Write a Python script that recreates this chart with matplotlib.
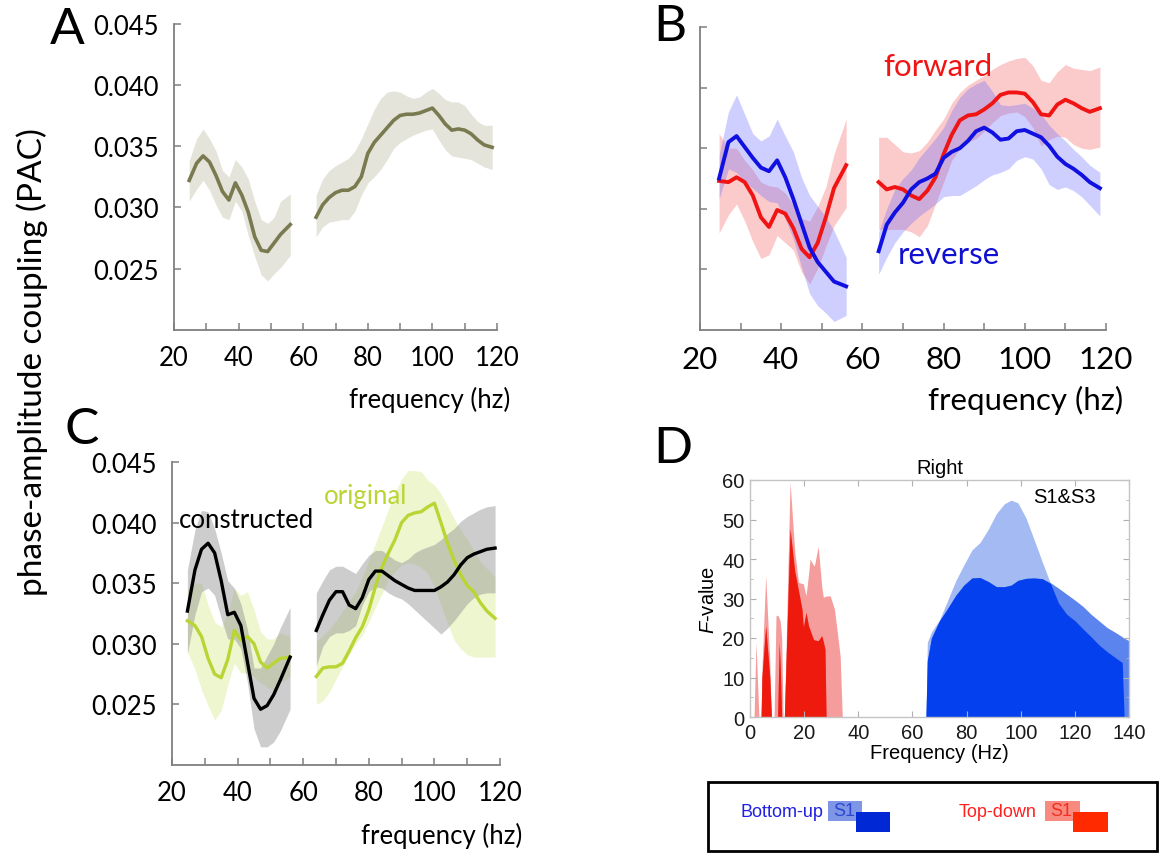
import numpy as np
import matplotlib.pyplot as plt
from matplotlib.patches import Rectangle
from matplotlib.ticker import MultipleLocator

W, H = 1159, 854
plt.rcParams['font.family'] = ['Lato', 'DejaVu Sans']
plt.rcParams['mathtext.fontset'] = 'custom'
plt.rcParams['mathtext.it'] = 'Liberation Sans:italic'
plt.rcParams['mathtext.rm'] = 'Liberation Sans'

# ---------------- data ----------------
freq_lo = [24.7, 27, 29, 31, 33, 35, 37, 39, 41, 43, 45, 47, 49, 51, 53, 56]
freq_hi = [64, 66, 68, 70, 72, 74, 76, 78, 80, 82, 84, 86, 88, 90, 92, 94, 96, 98,
           100, 102, 104, 106, 108, 110, 112, 114, 116, 118.5]

# panel A
a_mean_lo = [0.0322, 0.0336, 0.0342, 0.0337, 0.0326, 0.0313, 0.0306, 0.0320, 0.0310, 0.0296,
             0.0276, 0.0265, 0.0264, 0.0271, 0.0278, 0.0286]
a_up_lo = [0.0338, 0.0356, 0.0364, 0.0356, 0.0346, 0.0330, 0.0325, 0.0339, 0.0333, 0.0323,
           0.0305, 0.0290, 0.0287, 0.0292, 0.0305, 0.0311]
a_dn_lo = [0.0305, 0.0315, 0.0322, 0.0314, 0.0302, 0.0292, 0.0290, 0.0305, 0.0297, 0.0277,
           0.0260, 0.0245, 0.0240, 0.0246, 0.0251, 0.0261]
a_mean_hi = [0.0292, 0.0302, 0.0308, 0.0312, 0.0314, 0.0314, 0.0317, 0.0325, 0.0344, 0.0353,
             0.0359, 0.0365, 0.0371, 0.0375, 0.0376, 0.0376, 0.0377, 0.0379, 0.0381, 0.0375,
             0.0368, 0.0363, 0.0364, 0.0363, 0.0360, 0.0355, 0.0351, 0.0349]
a_up_hi = [0.0310, 0.0323, 0.0330, 0.0334, 0.0337, 0.0340, 0.0346, 0.0356, 0.0368, 0.0380,
           0.0389, 0.0394, 0.0395, 0.0394, 0.0391, 0.0389, 0.0390, 0.0394, 0.0397, 0.0393,
           0.0388, 0.0386, 0.0386, 0.0383, 0.0376, 0.0370, 0.0367, 0.0367]
a_dn_hi = [0.0276, 0.0284, 0.0288, 0.0289, 0.0290, 0.0290, 0.0297, 0.0310, 0.0320, 0.0325,
           0.0331, 0.0339, 0.0348, 0.0353, 0.0356, 0.0359, 0.0361, 0.0363, 0.0364, 0.0355,
           0.0347, 0.0342, 0.0341, 0.0340, 0.0339, 0.0336, 0.0333, 0.0331]

# panel B: forward (red) / reverse (blue)
fwd_mean_lo = [0.0323, 0.0322, 0.0326, 0.0322, 0.0311, 0.0293, 0.0285, 0.0299, 0.0296, 0.0284,
               0.0267, 0.0260, 0.0272, 0.0293, 0.0317, 0.0336]
fwd_up_lo = [0.0362, 0.0350, 0.0350, 0.0340, 0.0332, 0.0322, 0.0319, 0.0318, 0.0313, 0.0303,
             0.0292, 0.0290, 0.0302, 0.0318, 0.0345, 0.0374]
fwd_dn_lo = [0.0280, 0.0295, 0.0304, 0.0290, 0.0273, 0.0259, 0.0262, 0.0278, 0.0272, 0.0266,
             0.0248, 0.0238, 0.0251, 0.0269, 0.0286, 0.0301]
fwd_mean_hi = [0.0322, 0.0316, 0.0318, 0.0316, 0.0311, 0.0308, 0.0315, 0.0326, 0.0345, 0.0361,
               0.0373, 0.0377, 0.0378, 0.0382, 0.0387, 0.0394, 0.0396, 0.0396, 0.0395, 0.0388,
               0.0378, 0.0377, 0.0386, 0.0390, 0.0387, 0.0383, 0.0380, 0.0383]
fwd_up_hi = [0.0359, 0.0359, 0.0353, 0.0347, 0.0346, 0.0348, 0.0355, 0.0365, 0.0374, 0.0387,
             0.0396, 0.0402, 0.0406, 0.0410, 0.0415, 0.0419, 0.0422, 0.0424, 0.0425, 0.0418,
             0.0406, 0.0404, 0.0413, 0.0419, 0.0416, 0.0415, 0.0414, 0.0417]
fwd_dn_hi = [0.0283, 0.0283, 0.0283, 0.0283, 0.0281, 0.0277, 0.0286, 0.0304, 0.0322, 0.0340,
             0.0350, 0.0355, 0.0358, 0.0364, 0.0371, 0.0377, 0.0379, 0.0380, 0.0376, 0.0367,
             0.0352, 0.0357, 0.0360, 0.0359, 0.0353, 0.0350, 0.0349, 0.0351]
rev_mean_lo = [0.0325, 0.0355, 0.0360, 0.0351, 0.0342, 0.0334, 0.0331, 0.0340, 0.0326, 0.0308,
               0.0288, 0.0268, 0.0256, 0.0248, 0.0240, 0.0236]
rev_up_lo = [0.0344, 0.0380, 0.0394, 0.0378, 0.0362, 0.0356, 0.0360, 0.0374, 0.0360, 0.0347,
             0.0326, 0.0311, 0.0302, 0.0293, 0.0282, 0.0260]
rev_dn_lo = [0.0308, 0.0333, 0.0330, 0.0322, 0.0317, 0.0311, 0.0306, 0.0305, 0.0292, 0.0275,
             0.0252, 0.0230, 0.0220, 0.0214, 0.0207, 0.0212]
rev_mean_hi = [0.0265, 0.0287, 0.0297, 0.0305, 0.0316, 0.0322, 0.0325, 0.0329, 0.0342, 0.0347,
               0.0350, 0.0356, 0.0364, 0.0367, 0.0363, 0.0357, 0.0358, 0.0364, 0.0365, 0.0362,
               0.0359, 0.0352, 0.0343, 0.0337, 0.0333, 0.0328, 0.0322, 0.0317]
rev_up_hi = [0.0281, 0.0300, 0.0316, 0.0325, 0.0332, 0.0342, 0.0350, 0.0358, 0.0367, 0.0381,
             0.0392, 0.0399, 0.0403, 0.0406, 0.0397, 0.0386, 0.0385, 0.0386, 0.0387, 0.0383,
             0.0378, 0.0369, 0.0362, 0.0356, 0.0349, 0.0343, 0.0336, 0.0330]
rev_dn_hi = [0.0246, 0.0260, 0.0272, 0.0281, 0.0288, 0.0294, 0.0299, 0.0304, 0.0310, 0.0311,
             0.0311, 0.0315, 0.0319, 0.0324, 0.0328, 0.0330, 0.0333, 0.0340, 0.0343, 0.0341,
             0.0333, 0.0320, 0.0316, 0.0318, 0.0315, 0.0310, 0.0303, 0.0294]

# panel C: constructed (black) / original (green)
con_mean_lo = [0.0327, 0.0361, 0.0378, 0.0383, 0.0375, 0.0352, 0.0324, 0.0326, 0.0315, 0.0285,
               0.0255, 0.0246, 0.0249, 0.0258, 0.0270, 0.0289]
con_up_lo = [0.0361, 0.0394, 0.0410, 0.0409, 0.0395, 0.0375, 0.0352, 0.0346, 0.0333, 0.0312,
             0.0280, 0.0280, 0.0290, 0.0300, 0.0313, 0.0330]
con_dn_lo = [0.0292, 0.0324, 0.0343, 0.0346, 0.0340, 0.0321, 0.0304, 0.0304, 0.0296, 0.0268,
             0.0230, 0.0215, 0.0215, 0.0219, 0.0228, 0.0246]
con_mean_hi = [0.0311, 0.0324, 0.0336, 0.0343, 0.0343, 0.0332, 0.0329, 0.0338, 0.0353, 0.0360,
               0.0360, 0.0356, 0.0352, 0.0349, 0.0346, 0.0344, 0.0344, 0.0344, 0.0344, 0.0347,
               0.0351, 0.0357, 0.0365, 0.0371, 0.0374, 0.0376, 0.0378, 0.0379]
con_up_hi = [0.0342, 0.0352, 0.0361, 0.0364, 0.0364, 0.0361, 0.0358, 0.0366, 0.0373, 0.0377,
             0.0377, 0.0373, 0.0369, 0.0367, 0.0370, 0.0375, 0.0378, 0.0380, 0.0382, 0.0386,
             0.0391, 0.0395, 0.0401, 0.0405, 0.0408, 0.0411, 0.0413, 0.0414]
con_dn_hi = [0.0282, 0.0298, 0.0306, 0.0309, 0.0309, 0.0311, 0.0315, 0.0332, 0.0343, 0.0347,
             0.0346, 0.0342, 0.0339, 0.0337, 0.0333, 0.0328, 0.0323, 0.0318, 0.0313, 0.0308,
             0.0313, 0.0319, 0.0326, 0.0333, 0.0338, 0.0341, 0.0342, 0.0342]
org_mean_lo = [0.0319, 0.0315, 0.0306, 0.0288, 0.0275, 0.0272, 0.0287, 0.0311, 0.0303, 0.0306,
               0.0300, 0.0285, 0.0280, 0.0284, 0.0288, 0.0289]
org_up_lo = [0.0345, 0.0350, 0.0350, 0.0332, 0.0318, 0.0314, 0.0325, 0.0346, 0.0340, 0.0343,
             0.0328, 0.0310, 0.0304, 0.0304, 0.0309, 0.0306]
org_dn_lo = [0.0293, 0.0279, 0.0262, 0.0249, 0.0237, 0.0245, 0.0266, 0.0284, 0.0276, 0.0276,
             0.0273, 0.0268, 0.0264, 0.0262, 0.0268, 0.0273]
org_mean_hi = [0.0273, 0.0280, 0.0281, 0.0281, 0.0284, 0.0294, 0.0305, 0.0314, 0.0328, 0.0347,
               0.0363, 0.0375, 0.0386, 0.0400, 0.0406, 0.0408, 0.0409, 0.0413, 0.0416, 0.0400,
               0.0383, 0.0369, 0.0357, 0.0348, 0.0343, 0.0334, 0.0327, 0.0321]
org_up_hi = [0.0302, 0.0307, 0.0312, 0.0319, 0.0327, 0.0335, 0.0343, 0.0355, 0.0369, 0.0383,
             0.0397, 0.0411, 0.0425, 0.0436, 0.0443, 0.0443, 0.0442, 0.0435, 0.0431, 0.0424,
             0.0414, 0.0403, 0.0394, 0.0386, 0.0377, 0.0368, 0.0362, 0.0355]
org_dn_hi = [0.0250, 0.0253, 0.0260, 0.0271, 0.0281, 0.0291, 0.0300, 0.0307, 0.0318, 0.0330,
             0.0341, 0.0353, 0.0360, 0.0365, 0.0367, 0.0366, 0.0363, 0.0358, 0.0347, 0.0332,
             0.0317, 0.0303, 0.0296, 0.0291, 0.0289, 0.0289, 0.0289, 0.0289]

# panel D: F-values
bu_freq = [65.0, 65.5, 67, 70, 73, 76, 79, 82, 85, 88, 91, 94, 96.5, 99, 102, 105, 108, 111,
           114, 117, 120, 123, 126, 129, 132, 135, 137.5, 138.2, 140]
bu_s1 = [0, 18.9, 21.5, 24.6, 29.5, 34.5, 38.5, 42.3, 44.2, 47.5, 51.5, 54.0, 54.9, 54.2,
         50.3, 44.8, 39.2, 33.8, 28.8, 26.0, 24.4, 22.3, 20.3, 18.2, 16.5, 15.0, 13.8, 0, 0]
bu_s3 = [0, 14.3, 20.0, 24.4, 27.5, 30.8, 33.4, 35.2, 35.3, 34.3, 33.0, 33.0, 33.4, 34.6,
         35.1, 35.2, 35.0, 34.0, 32.6, 31.1, 29.6, 28.0, 26.0, 24.3, 22.6, 21.4, 20.3, 20.0, 19.3]
td_freq = [0, 1.5, 2.2, 3.3, 4.1, 4.4, 5.8, 7.3, 7.9, 8.9, 9.6, 10.2, 10.8, 11.2, 11.7, 12.2,
           12.7, 14.8, 16.5, 17.9, 19.2, 19.7, 20.7, 21.6, 22.2, 23.4, 23.8, 25.2, 26.5, 27.1,
           27.7, 28.1, 29.6, 31.2, 33.3, 34.1, 40]
td_s1 = [0, 0, 18.9, 0, 0, 12, 35.8, 14, 0, 0, 25.6, 25.8, 25.0, 24, 20, 0,
         0, 59.6, 42, 34.1, 33.8, 33.7, 30.7, 36, 40.0, 38.5, 38.3, 43.2, 33, 30.3,
         30.5, 30.6, 30.7, 27.3, 15.5, 0, 0]
td_s3 = [0, 0, 0, 0, 0, 10, 23.1, 10, 0, 0, 0, 0, 18.9, 12, 0, 0,
         0, 47.6, 37, 32, 27.3, 22.7, 26.5, 23.1, 22, 19.7, 19.5, 19.3, 20.6, 19,
         17.2, 0, 0, 0, 0, 0, 0]

freq_ticks = [20, 40, 60, 80, 100, 120]
pac_ticks = [0.025, 0.030, 0.035, 0.040, 0.045]


def px(x0, y0, x1, y1):
    # pixel box -> figure fraction rect
    return [x0 / W, 1 - y1 / H, (x1 - x0) / W, (y1 - y0) / H]


def ftext(x, y, s, **kw):
    fig.text(x / W, 1 - y / H, s, **kw)


def pac_axes(rect, tick_size, show_ylabels=True):
    ax = fig.add_axes(rect)
    for s in ['top', 'right']:
        ax.spines[s].set_visible(False)
    for s in ['left', 'bottom']:
        ax.spines[s].set_color('#7f7f7f')
        ax.spines[s].set_linewidth(1.3)
    ax.set_xlim(20, 120)
    ax.set_ylim(0.020, 0.045)
    ax.set_xticks(freq_ticks)
    ax.xaxis.set_minor_locator(MultipleLocator(10))
    ax.set_yticks(pac_ticks)
    if show_ylabels:
        ax.set_yticklabels(['%.3f' % v for v in pac_ticks])
    else:
        ax.set_yticklabels([])
    ax.tick_params(which='both', direction='in', length=5, width=1.1, color='#7f7f7f',
                   labelsize=tick_size, labelcolor='black')
    ax.tick_params(axis='x', pad=11)
    ax.tick_params(axis='y', pad=11)
    ax.patch.set_alpha(0)
    return ax


fig = plt.figure(figsize=(W / 100, H / 100), dpi=100)

# ---------------- A ----------------
axA = pac_axes(px(174, 24.5, 497, 331), 18.5)
for f, m, lo, up in [(freq_lo, a_mean_lo, a_dn_lo, a_up_lo),
                     (freq_hi, a_mean_hi, a_dn_hi, a_up_hi)]:
    axA.fill_between(f, lo, up, color='#e4e4da', lw=0)
    axA.plot(f, m, color='#7a7a50', lw=2.6)
ftext(510, 400, 'frequency (hz)', fontsize=18.5, ha='right', va='center')

# ---------------- B ----------------
axB = pac_axes(px(700, 28, 1106, 331), 22.5, show_ylabels=False)
for f, lo, up in [(freq_lo, fwd_dn_lo, fwd_up_lo), (freq_hi, fwd_dn_hi, fwd_up_hi)]:
    axB.fill_between(f, lo, up, color='#f45050', alpha=0.3, lw=0)
for f, lo, up in [(freq_lo, rev_dn_lo, rev_up_lo), (freq_hi, rev_dn_hi, rev_up_hi)]:
    axB.fill_between(f, lo, up, color='#6060ff', alpha=0.3, lw=0)
for f, m in [(freq_lo, fwd_mean_lo), (freq_hi, fwd_mean_hi)]:
    axB.plot(f, m, color='#f01414', lw=2.8)
for f, m in [(freq_lo, rev_mean_lo), (freq_hi, rev_mean_hi)]:
    axB.plot(f, m, color='#1010e0', lw=2.8)
ftext(1123, 400, 'frequency (hz)', fontsize=22.5, ha='right', va='center')
ftext(938, 67, 'forward', fontsize=22.5, color='#f01414', ha='center', va='center')
ftext(949, 255, 'reverse', fontsize=22.5, color='#1010d0', ha='center', va='center')

# ---------------- C ----------------
axC = pac_axes(px(172, 463, 500, 766), 18.5)
for f, lo, up in [(freq_lo, org_dn_lo, org_up_lo), (freq_hi, org_dn_hi, org_up_hi)]:
    axC.fill_between(f, lo, up, color='#d6ea8a', alpha=0.4, lw=0)
for f, lo, up in [(freq_lo, con_dn_lo, con_up_lo), (freq_hi, con_dn_hi, con_up_hi)]:
    axC.fill_between(f, lo, up, color='#909090', alpha=0.45, lw=0)
for f, m in [(freq_lo, org_mean_lo), (freq_hi, org_mean_hi)]:
    axC.plot(f, m, color='#b8d534', lw=2.4)
for f, m in [(freq_lo, con_mean_lo), (freq_hi, con_mean_hi)]:
    axC.plot(f, m, color='black', lw=2.4)
ftext(522, 836, 'frequency (hz)', fontsize=18.5, ha='right', va='center')
ftext(247, 520, 'constructed', fontsize=18.5, color='black', ha='center', va='center')
ftext(366, 497, 'original', fontsize=18.5, color='#b8d534', ha='center', va='center')

ftext(32, 362, 'phase-amplitude coupling (PAC)', fontsize=24, rotation=90,
      ha='center', va='center')

# ---------------- D ----------------
axD = fig.add_axes(px(750, 481, 1129, 718))
bu_both = np.minimum(bu_s1, bu_s3)
td_both = np.minimum(td_s1, td_s3)
axD.fill_between(td_freq, 0, td_s1, color='#f59c9c', lw=0)
axD.fill_between(td_freq, 0, td_s3, color='#f26a6a', lw=0)
axD.fill_between(td_freq, 0, td_both, color='#ee1a0e', lw=0)
axD.fill_between(bu_freq, 0, bu_s1, color='#a3baf3', lw=0)
axD.fill_between(bu_freq, 0, bu_s3, color='#5c84ef', lw=0)
axD.fill_between(bu_freq, 0, bu_both, color='#0440ee', lw=0)
axD.set_xlim(0, 140)
axD.set_ylim(0, 60)
axD.xaxis.set_major_locator(MultipleLocator(20))
axD.yaxis.set_major_locator(MultipleLocator(10))
axD.yaxis.set_minor_locator(MultipleLocator(5))
for s in axD.spines.values():
    s.set_color('#c4c4c4')
    s.set_linewidth(1)
axD.tick_params(which='both', direction='in', top=True, right=True, color='#b0b0b0',
                labelsize=14.5, labelcolor='#1a1a1a', pad=4)
axD.tick_params(which='major', length=4)
axD.tick_params(which='minor', length=2.5)
for lab in axD.get_xticklabels() + axD.get_yticklabels():
    lab.set_family('Liberation Sans')
axD.set_xlabel('Frequency (Hz)', fontsize=14.5, family='Liberation Sans', labelpad=1)
axD.set_ylabel('$F$-value', fontsize=14.5, family='Liberation Sans', labelpad=3)
axD.set_title('Right', fontsize=14.5, family='Liberation Sans', pad=5)
axD.text(0.83, 0.93, 'S1&S3', transform=axD.transAxes, fontsize=14.5,
         family='Liberation Sans', ha='center', va='center')

# legend box below D
fig.add_artist(Rectangle((708 / W, 1 - 852 / H), (1157 - 708) / W, (852 - 783) / H,
                         transform=fig.transFigure, fill=False, ec='black', lw=2))
ftext(740, 813, 'Bottom-up', fontsize=13, color='#2020e0', family='Liberation Sans',
      ha='left', va='center')
fig.add_artist(Rectangle((828 / W, 1 - 822 / H), 34 / W, 20 / H, transform=fig.transFigure,
                         color='#7f95e6', lw=0))
ftext(844, 812, 'S1', fontsize=13, color='#2a48d0', family='Liberation Sans',
      ha='center', va='center')
fig.add_artist(Rectangle((856 / W, 1 - 833 / H), 34 / W, 20 / H, transform=fig.transFigure,
                         color='#0028d4', lw=0))
ftext(959, 813, 'Top-down', fontsize=13, color='#ff2020', family='Liberation Sans',
      ha='left', va='center')
fig.add_artist(Rectangle((1045 / W, 1 - 822 / H), 35 / W, 20 / H, transform=fig.transFigure,
                         color='#f98a80', lw=0))
ftext(1061, 812, 'S1', fontsize=13, color='#f03020', family='Liberation Sans',
      ha='center', va='center')
fig.add_artist(Rectangle((1073 / W, 1 - 833 / H), 35 / W, 20 / H, transform=fig.transFigure,
                         color='#ff2a00', lw=0))

# panel letters
for letter, x, y in [('A', 67, 30), ('B', 670, 27), ('C', 82, 430), ('D', 673, 449)]:
    ftext(x, y, letter, fontsize=37, ha='center', va='center')

fig.savefig('out.png', dpi=100)
